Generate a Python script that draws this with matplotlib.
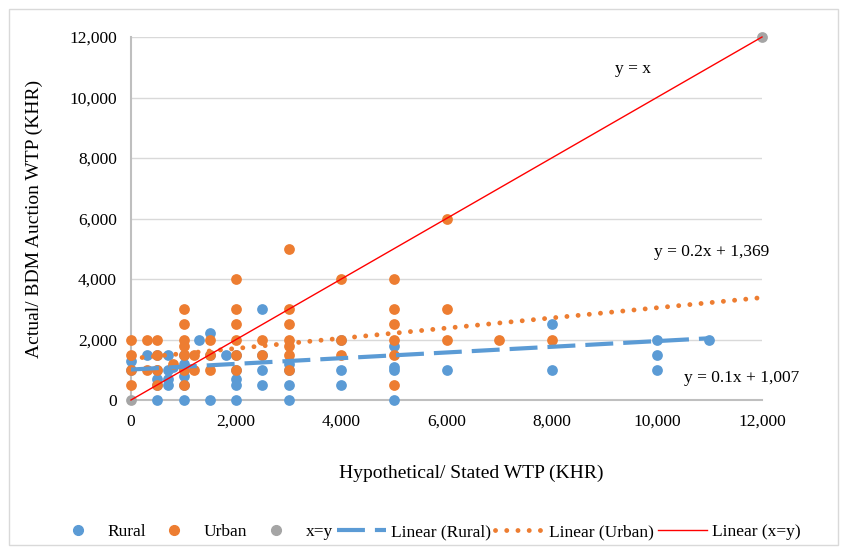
import numpy as np
import matplotlib
matplotlib.use("Agg")
from matplotlib import pyplot as plt
from matplotlib.lines import Line2D
from matplotlib.patches import Rectangle

plt.rcParams['font.family'] = ['Liberation Serif', 'DejaVu Serif']

# Rural (stated WTP, auction WTP)
rural_x = [0, 0, 300, 500, 500, 500, 500, 500, 700, 700, 700, 700, 800,
           1000, 1000, 1000, 1000, 1000, 1000, 1300, 1500, 1500, 1500, 1800,
           2000, 2000, 2000, 2000, 2000, 2500, 2500, 2500, 2500,
           3000, 3000, 3000, 3000, 4000, 4000, 4000,
           5000, 5000, 5000, 5000, 6000, 8000, 8000,
           10000, 10000, 10000, 11000]
rural_y = [1000, 1300, 1500, 0, 500, 700, 1000, 1500, 500, 700, 1000, 1500, 1100,
           0, 500, 800, 1000, 1200, 1500, 2000, 0, 2200, 1500, 1500,
           0, 500, 700, 1000, 1500, 3000, 500, 1000, 1500,
           0, 500, 1000, 1200, 500, 1000, 2000,
           0, 1000, 1100, 1800, 1000, 2500, 1000,
           2000, 1500, 1000, 2000]

# Urban
urban_x = [0, 0, 0, 0, 300, 300, 500, 500, 500, 500, 800,
           1000, 1000, 1000, 1000, 1000, 1000, 1000, 1200, 1200,
           1500, 1500, 1500, 2000, 2000, 2000, 2000, 2000, 2000,
           2500, 2500, 3000, 3000, 3000, 3000, 3000, 3000, 3000,
           4000, 4000, 4000, 5000, 5000, 5000, 5000, 5000, 5000,
           6000, 6000, 6000, 7000, 8000]
urban_y = [2000, 1500, 1000, 500, 2000, 1000, 2000, 1500, 1000, 500, 1200,
           3000, 2500, 2000, 1800, 1500, 1000, 500, 1500, 1000,
           2000, 1500, 1000, 4000, 3000, 2500, 2000, 1500, 1000,
           2000, 1500, 5000, 3000, 2500, 2000, 1800, 1500, 1000,
           4000, 2000, 1500, 4000, 3000, 2500, 2000, 1500, 500,
           6000, 3000, 2000, 2000, 2000]

# x=y reference points
xy_x = [0, 12000]
xy_y = [0, 12000]

# trendline coefficients (slope, intercept) and x range
rural_fit = (0.094, 1007)
rural_span = (0, 11000)
urban_fit = (0.168, 1369)
urban_span = (0, 12000)

ticks = [0, 2000, 4000, 6000, 8000, 10000, 12000]

c_blue = '#5B9BD5'
c_orange = '#ED7D31'
c_gray = '#A5A5A5'
c_red = '#FF0000'

rural_dash = (6.7, 2.4)
urban_dot = (0, (0.01, 2.3))

fig = plt.figure(figsize=(8.41, 5.53), dpi=100)
ax = fig.add_axes([131 / 841, 1 - 400 / 553, (762 - 131) / 841, (400 - 37) / 553])

ax.scatter(rural_x, rural_y, s=60, color=c_blue, zorder=3, linewidths=0, clip_on=False)
ax.scatter(urban_x, urban_y, s=60, color=c_orange, zorder=3, linewidths=0, clip_on=False)
ax.scatter(xy_x, xy_y, s=60, color=c_gray, zorder=4, linewidths=0, clip_on=False)

xr = np.array(rural_span)
ax.plot(xr, rural_fit[0] * xr + rural_fit[1], color=c_blue, lw=3,
        dashes=rural_dash, zorder=5)
xu = np.array(urban_span)
ax.plot(xu, urban_fit[0] * xu + urban_fit[1], color=c_orange, lw=3.5,
        linestyle=urban_dot, dash_capstyle='round', zorder=5, clip_on=False)
ax.plot(xy_x, xy_y, color=c_red, lw=1, zorder=6, clip_on=False)

ax.set_xlim(0, 12000)
ax.set_ylim(0, 12000)
ax.set_xticks(ticks)
ax.set_yticks(ticks)
ax.set_xticklabels([f"{t:,}" for t in ticks])
ax.set_yticklabels([f"{t:,}" for t in ticks])
ax.tick_params(length=0, labelsize=12.5, pad=10)
ax.grid(axis='y', color='#d9d9d9', lw=1)
ax.set_axisbelow(True)
for s in ['top', 'right']:
    ax.spines[s].set_visible(False)
for s in ['left', 'bottom']:
    ax.spines[s].set_color('#bfbfbf')
    ax.spines[s].set_linewidth(1.5)

ax.set_xlabel("Hypothetical/ Stated WTP (KHR)", fontsize=14)
ax.set_ylabel("Actual/ BDM Auction WTP (KHR)", fontsize=14)
ax.xaxis.set_label_coords((471 - 131) / 631, -(465 - 400) / 363)
ax.yaxis.set_label_coords(-(131 - 43) / 631, 0.5)

ax.text(9545, 10930, "y = x", fontsize=12.5, ha='center', va='center')
ax.text(11046, 4880, "y = 0.2x + 1,369", fontsize=12.5, ha='center', va='center')
ax.text(11616, 740, "y = 0.1x + 1,007", fontsize=12.5, ha='center', va='center')

handles = [
    Line2D([], [], ls='none', marker='o', ms=7, color=c_blue),
    Line2D([], [], ls='none', marker='o', ms=7, color=c_orange),
    Line2D([], [], ls='none', marker='o', ms=7, color=c_gray),
    Line2D([], [], color=c_blue, lw=3, dashes=rural_dash),
    Line2D([], [], color=c_orange, lw=3.5, linestyle=urban_dot,
           dash_capstyle='round'),
    Line2D([], [], color=c_red, lw=1),
]
labels = ["Rural", "Urban", "x=y", "Linear (Rural)", "Linear (Urban)", "Linear (x=y)"]
fig.legend(handles, labels, loc='center', bbox_to_anchor=(427 / 841, 1 - 532 / 553),
           ncol=6, frameon=False, fontsize=12.5, handlelength=2.8,
           handletextpad=0.3, columnspacing=0.25)

fig.patches.append(Rectangle((9 / 841, 1 - 545 / 553), 829 / 841, 536 / 553,
                             transform=fig.transFigure, fill=False,
                             edgecolor='#d9d9d9', lw=1))

plt.savefig("out.png", dpi=100)
